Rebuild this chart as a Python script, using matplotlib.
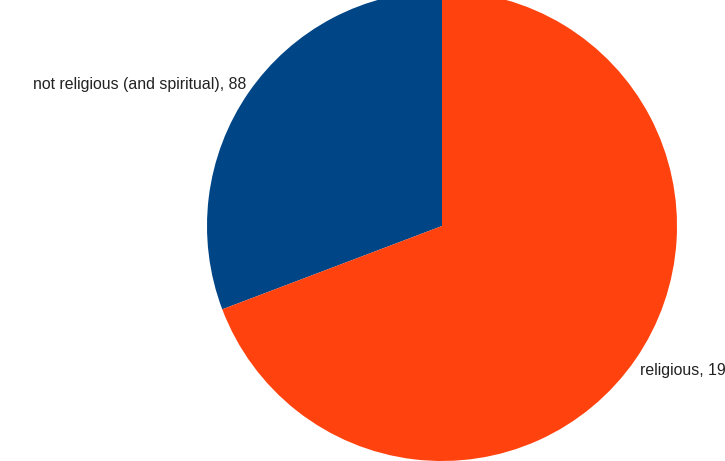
import matplotlib.pyplot as plt

labels = ["not religious (and spiritual)", "religious"]
values = [88, 198]
colors = ["#004586", "#ff420e"]

plt.rcParams['font.family'] = ['Liberation Sans', 'DejaVu Sans']

fig = plt.figure(figsize=(7.25, 4.61), dpi=100)
ax = fig.add_axes([0, 0, 1, 1])

ax.pie(values, colors=colors, startangle=90, counterclock=True,
       center=(442, 235), radius=235, frame=True,
       wedgeprops=dict(linewidth=0))
ax.set_xlim(0, 725)
ax.set_ylim(0, 461)
ax.set_aspect('auto')
ax.axis('off')

ax.text(33, 461 - 84, f"{labels[0]}, {values[0]}", fontsize=11.4,
        ha='left', va='center', color='#222222')
ax.text(640, 461 - 370, f"{labels[1]}, {values[1]}", fontsize=11.4,
        ha='left', va='center', color='#222222')

fig.savefig("out.png", dpi=100)
